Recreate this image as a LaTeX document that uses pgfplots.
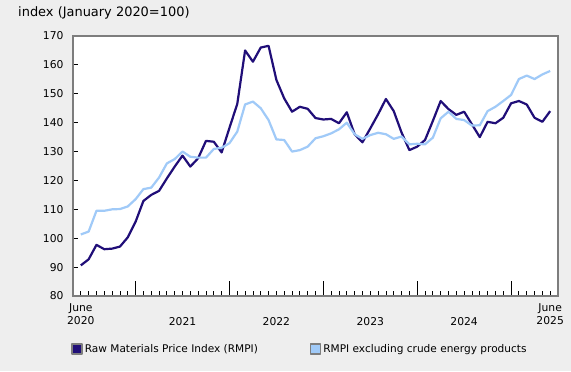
\documentclass[border=0pt]{standalone}
\usepackage{pgfplots}
\pgfplotsset{compat=1.18}
\usepackage{pgfplotstable}
\usepackage{fontspec}
\setmainfont{DejaVu Sans}
\definecolor{rmpidark}{RGB}{32,14,120}
\definecolor{rmpilight}{RGB}{160,202,248}
\definecolor{bggray}{RGB}{238,238,238}
\definecolor{framegray}{RGB}{125,125,125}
\pgfplotstableread{
idx dark light
0 90.6 101.3
1 92.7 102.3
2 97.7 109.5
3 96.2 109.5
4 96.4 110.0
5 97.1 110.1
6 100.3 111.0
7 105.7 113.5
8 112.9 117.0
9 115.0 117.5
10 116.4 121.0
11 120.7 125.9
12 124.8 127.4
13 128.6 130.0
14 124.8 128.2
15 127.7 127.9
16 133.7 127.9
17 133.4 130.9
18 129.7 131.3
19 138.2 132.9
20 146.5 136.9
21 165.0 146.3
22 161.1 147.3
23 166.0 145.0
24 166.6 140.9
25 154.8 134.2
26 148.4 134.0
27 143.8 130.0
28 145.5 130.5
29 144.8 131.7
30 141.6 134.6
31 141.1 135.3
32 141.3 136.3
33 139.8 137.7
34 143.6 140.0
35 136.0 136.0
36 133.2 134.4
37 138.0 135.7
38 142.9 136.5
39 148.2 136.0
40 144.0 134.4
41 136.6 135.2
42 130.5 132.5
43 131.7 132.7
44 134.0 132.5
45 140.6 134.8
46 147.5 141.5
47 144.7 143.8
48 142.7 141.3
49 143.8 140.9
50 139.4 139.0
51 135.0 139.1
52 140.3 144.0
53 139.8 145.5
54 141.7 147.5
55 146.7 149.6
56 147.5 155.1
57 146.3 156.3
58 141.7 155.1
59 140.3 156.7
60 144.0 157.9
}\datatable
\begin{document}
\begin{tikzpicture}[x=1bp,y=1bp]
\fill[bggray] (0,0) rectangle (571,371);
\useasboundingbox (0,0) rectangle (571,371);
\begin{axis}[
  at={(73bp,75bp)}, anchor=south west,
  scale only axis, width=485bp, height=260bp,
  xmin=-1, xmax=61, ymin=80, ymax=170,
  /pgf/number format/assume math mode=true,
  axis background/.style={fill=white},
  axis line style={draw=framegray, line width=2bp},
  every tick/.style={black, line width=0.8bp},
  tick align=inside,
  xtick pos=lower, ytick pos=left,
  ytick={80,90,...,170},
  ytick style={/pgfplots/major tick length=5bp},
  yticklabel style={font=\fontsize{10.8}{13}\selectfont, xshift=-6bp},
  xtick={7,19,31,43,55},
  xticklabels={},
  xtick style={/pgfplots/major tick length=15bp},
  minor xtick={0,1,...,60},
  minor tick length=5bp,
  extra x ticks={0,13,25,37,49,60},
  extra x tick labels={{June\\2020},{\strut\\2021},{\strut\\2022},{\strut\\2023},{\strut\\2024},{June\\2025}},
  extra x tick style={xtick style={draw=none}, xticklabel style={align=center, font=\fontsize{10.8}{13}\selectfont, yshift=-4bp}},
  legend columns=2,
  legend style={at={(axis description cs:-0.01,-0.17)}, anchor=north west, draw=none, fill=none,
    font=\fontsize{10.6}{13}\selectfont,
    /tikz/every even column/.append style={column sep=50bp}},
  clip=false,
]
\addplot[rmpidark, line width=2.2bp, line join=round,
  legend image code/.code={\filldraw[draw=framegray, fill=rmpidark, line width=1.5bp] (0bp,-5bp) rectangle (10bp,5bp);}]
  table[x=idx, y=dark] {\datatable};
\addlegendentry{Raw Materials Price Index (RMPI)}
\addplot[rmpilight, line width=2.2bp, line join=round,
  legend image code/.code={\filldraw[draw=framegray, fill=rmpilight, line width=1.5bp] (0bp,-5bp) rectangle (10bp,5bp);}]
  table[x=idx, y=light] {\datatable};
\addlegendentry{RMPI excluding crude energy products}
\node[anchor=base west, font=\fontsize{13}{15}\selectfont, inner sep=0pt] at (axis description cs:-0.1134,1.074) {index (January 2020=100)};
\end{axis}
\end{tikzpicture}
\end{document}
